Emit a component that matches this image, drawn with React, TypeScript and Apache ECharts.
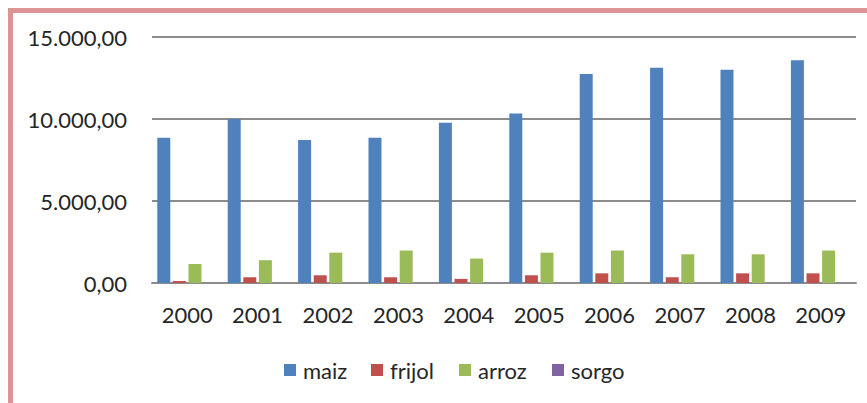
import React, { useEffect, useRef } from "react";
import * as echarts from "echarts";

const years = ["2000", "2001", "2002", "2003", "2004", "2005", "2006", "2007", "2008", "2009"];
const maiz = [8850, 10000, 8720, 8850, 9770, 10340, 12750, 13130, 13000, 13580];
const frijol = [120, 350, 470, 350, 250, 470, 590, 350, 590, 590];
const arroz = [1160, 1390, 1850, 1980, 1490, 1850, 1980, 1750, 1750, 1980];
const sorgo = [0, 0, 0, 0, 0, 0, 0, 0, 0, 0];
const seriesNames = ["maiz", "frijol", "arroz", "sorgo"];
const colors = ["#4F81BD", "#C0504D", "#9BBB59", "#8064A2"];
const legendLefts = [279, 366, 454, 547];

const fmt = (v: number) => {
  const s = Math.round(v).toString().replace(/\B(?=(\d{3})+(?!\d))/g, ".");
  return s + ",00";
};

export default function App() {
  const ref = useRef<HTMLDivElement>(null);
  useEffect(() => {
    const chart = echarts.init(ref.current!, null, { renderer: "svg" });
    const font = "Lato, 'Open Sans', sans-serif";
    const data = [maiz, frijol, arroz, sorgo];
    chart.setOption({
      animation: false,
      textStyle: { fontFamily: font },
      graphic: [
        { type: "rect", shape: { x: 8, y: 8, width: 859, height: 5 }, style: { fill: "#DC9494" } },
        { type: "rect", shape: { x: 8, y: 8, width: 5, height: 395 }, style: { fill: "#DC9494" } },
      ],
      grid: { left: 152, right: 11, top: 37, bottom: 120, containLabel: false },
      legend: seriesNames.map((n, i) => ({
        left: legendLefts[i],
        top: 354,
        itemWidth: 12,
        itemHeight: 12,
        icon: "rect",
        selectedMode: false,
        textStyle: { fontSize: 22, color: "#262626", fontFamily: font, padding: [0, 0, 0, 2] },
        data: [n],
      })),
      xAxis: {
        type: "category",
        data: years,
        axisLine: { lineStyle: { color: "#8C8C8C", width: 2 } },
        axisTick: { show: false },
        axisLabel: { fontSize: 22, color: "#262626", margin: 20, fontFamily: font },
      },
      yAxis: {
        type: "value",
        min: 0,
        max: 15000,
        interval: 5000,
        axisLine: { show: false },
        axisTick: { show: false },
        splitLine: { lineStyle: { color: "#8C8C8C", width: 2 } },
        axisLabel: { fontSize: 22, color: "#262626", margin: 25, formatter: fmt, fontFamily: font },
      },
      series: seriesNames.map((n, i) => ({
        name: n,
        type: "bar",
        data: data[i],
        barWidth: 13,
        barGap: "20%",
        itemStyle: { color: colors[i] },
      })),
    });
    return () => chart.dispose();
  }, []);
  return (
    <div
      ref={ref}
      style={{ position: "fixed", left: 0, top: 0, width: 867, height: 403, background: "#fff" }}
    />
  );
}
